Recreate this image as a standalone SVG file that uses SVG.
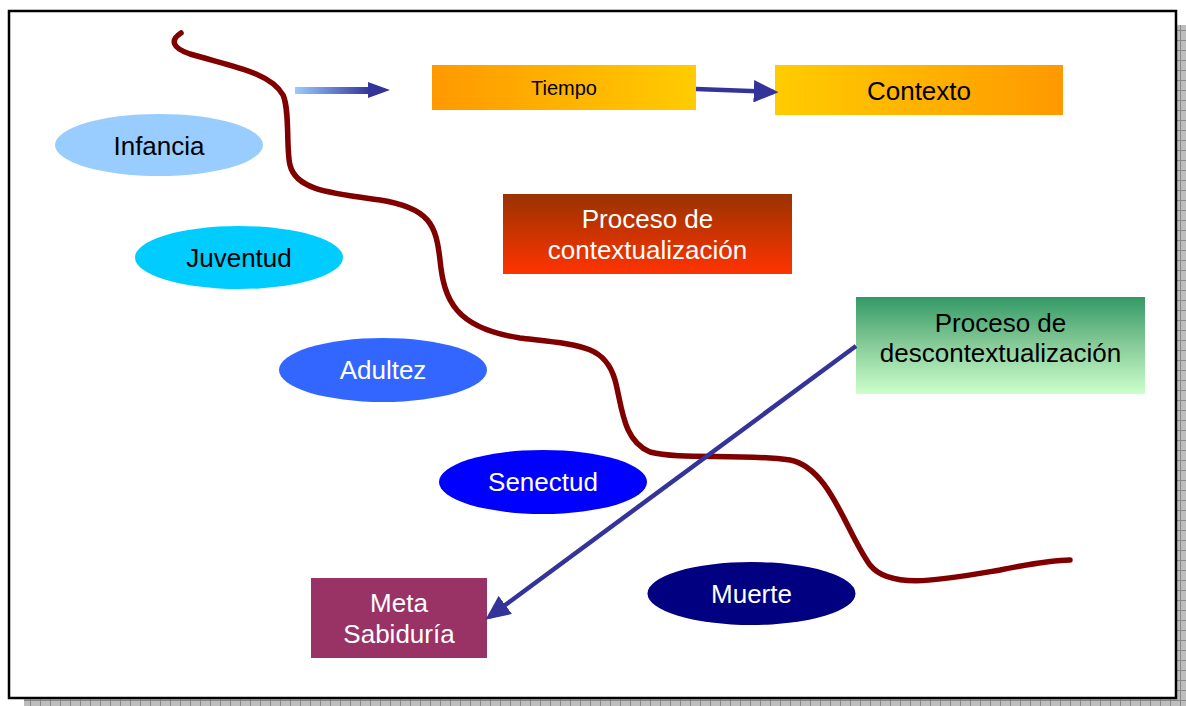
<svg xmlns="http://www.w3.org/2000/svg" width="1186" height="706" viewBox="0 0 1186 706">
<defs>
<pattern id="hatch" x="0" y="0" width="10" height="10" patternUnits="userSpaceOnUse">
<rect width="10" height="10" fill="#bdbdbd"/>
<path d="M0,0.5H10M0.5,0V10" stroke="#888888" stroke-width="1"/>
</pattern>
<linearGradient id="gTiempo" x1="0" y1="0" x2="1" y2="0"><stop offset="0" stop-color="#ff9900"/><stop offset="1" stop-color="#ffcc00"/></linearGradient>
<linearGradient id="gContexto" x1="0" y1="0" x2="1" y2="0"><stop offset="0" stop-color="#ffcc00"/><stop offset="1" stop-color="#ff9900"/></linearGradient>
<linearGradient id="gCtx" x1="0" y1="0" x2="0" y2="1"><stop offset="0" stop-color="#993300"/><stop offset="1" stop-color="#ff3300"/></linearGradient>
<linearGradient id="gDesc" x1="0" y1="0" x2="0" y2="1"><stop offset="0" stop-color="#339966"/><stop offset="0.5" stop-color="#88cc99"/><stop offset="1" stop-color="#ccffcc"/></linearGradient>
<linearGradient id="gArrow" x1="295" y1="0" x2="390" y2="0" gradientUnits="userSpaceOnUse"><stop offset="0" stop-color="#99ccff"/><stop offset="0.8" stop-color="#333399"/><stop offset="1" stop-color="#333399"/></linearGradient>
<marker id="head" markerWidth="5.5" markerHeight="5" refX="4.5" refY="2.5" orient="auto" markerUnits="strokeWidth">
<path d="M0,0 L5.5,2.5 L0,5 Z" fill="#333399"/>
</marker>
</defs>
<style>
text{font-family:"Liberation Sans",Arial,sans-serif;text-anchor:middle}
.t26{font-size:26px}
.t21{font-size:20px}
.w{fill:#ffffff}
.k{fill:#000000}
.conn{stroke:#333399;stroke-width:4.5;fill:none}
</style>
<rect x="0" y="0" width="1186" height="706" fill="#ffffff"/>
<rect x="24" y="25" width="1162" height="681" fill="url(#hatch)"/>
<rect x="9" y="11" width="1167" height="687" fill="#ffffff" stroke="#000000" stroke-width="2.5"/>

<g id="curve">
<path d="M181,33 C170,40 172,48 190,54 C230,66 270,72 283,95 C290,110 286,150 290,165 C296,190 330,193 380,200 C430,208 436,225 440,260 C444,300 455,328 520,338 C580,345 605,345 615,380 C622,405 622,440 650,452 C680,460 740,453 790,460 C830,468 845,530 870,565 C890,590 940,580 1000,570 C1030,564 1055,560 1070,560" fill="none" stroke="#800000" stroke-width="5.5" stroke-linecap="round"/>
</g>

<g id="infancia"><ellipse cx="159" cy="145" rx="104" ry="31" fill="#99ccff"/><text x="159" y="155" class="t26 k">Infancia</text></g>
<g id="juventud"><ellipse cx="239" cy="257.5" rx="104" ry="31.5" fill="#00ccff"/><text x="239" y="267" class="t26 k">Juventud</text></g>
<g id="adultez"><ellipse cx="383" cy="370" rx="104" ry="32" fill="#3366ff"/><text x="383" y="379" class="t26 w">Adultez</text></g>
<g id="senectud"><ellipse cx="543" cy="482" rx="104" ry="32" fill="#0000ff"/><text x="543" y="491" class="t26 w">Senectud</text></g>
<g id="muerte"><ellipse cx="751.5" cy="593.5" rx="104" ry="31.5" fill="#000080"/><text x="751.5" y="603" class="t26 w">Muerte</text></g>

<g id="tiempo"><rect x="432" y="65" width="264" height="45" fill="url(#gTiempo)"/><text x="564" y="95" class="t21 k">Tiempo</text></g>
<g id="contexto"><rect x="775" y="65" width="288" height="50" fill="url(#gContexto)"/><text x="919" y="100" class="t26 k">Contexto</text></g>
<g id="contextualizacion"><rect x="503" y="194" width="289" height="80" fill="url(#gCtx)"/><text x="647.5" y="228" class="t26 w">Proceso de</text><text x="647.5" y="259" class="t26 w">contextualización</text></g>
<g id="descontextualizacion"><rect x="856" y="297" width="289" height="97" fill="url(#gDesc)"/><text x="1000.5" y="332" class="t26 k">Proceso de</text><text x="1000.5" y="362" class="t26 k">descontextualización</text></g>
<g id="meta"><rect x="311" y="578" width="176" height="80" fill="#993366"/><text x="399" y="612" class="t26 w">Meta</text><text x="399" y="643" class="t26 w">Sabiduría</text></g>

<g id="connectors">
<polygon points="295,87 368,87 368,82 390,90 368,98 368,94 295,94" fill="url(#gArrow)"/>
<line x1="696" y1="89" x2="774" y2="92" class="conn" marker-end="url(#head)"/>
<line x1="856" y1="346" x2="489" y2="617" class="conn" marker-end="url(#head)"/>
</g>
</svg>
